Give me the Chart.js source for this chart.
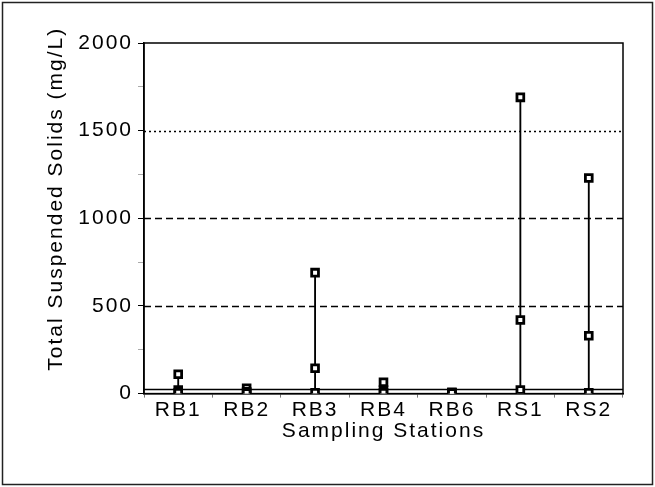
<!DOCTYPE html>
<html>
<head>
<meta charset="utf-8">
<script src="https://cdn.jsdelivr.net/npm/chart.js@4.4.1/dist/chart.umd.min.js"></script>
<style>
  html, body { margin: 0; padding: 0; background: #fff; }
  #wrap { position: relative; width: 655px; height: 487px; }
</style>
</head>
<body>
<div id="wrap"><canvas id="c" width="655" height="487"></canvas></div>
<script>
// ---- data ----
const stations = ['RB1', 'RB2', 'RB3', 'RB4', 'RB6', 'RS1', 'RS2'];
const minTSS    = [5, 3, 5, 5, 3, 20, 5];
const medianTSS = [20, 10, 145, 20, 5, 420, 330];
const maxTSS    = [110, 30, 690, 65, 8, 1690, 1230];
const refLevels = [25, 500, 1000, 1500];
const yTicks = [0, 500, 1000, 1500, 2000];

const FONT = "'Liberation Sans', Arial, sans-serif";
const SPACING = '2px';

const ranges = stations.map((s, i) => [minTSS[i], maxTSS[i]]);

const refStyle = {
  25:   { dash: [], width: 1.5 },
  500:  { dash: [7, 4], width: 1.5 },
  1000: { dash: [7, 4], width: 1.5 },
  1500: { dash: [2, 3], width: 1.5 }
};

const spacingPlugin = {
  id: 'spacing',
  beforeInit(chart) { chart.ctx.letterSpacing = SPACING; },
  beforeUpdate(chart) { chart.ctx.letterSpacing = SPACING; },
  beforeLayout(chart) { chart.ctx.letterSpacing = SPACING; },
  beforeDraw(chart) { chart.ctx.letterSpacing = SPACING; }
};

const framePlugin = {
  id: 'frame',
  beforeDatasetsDraw(chart) {
    const { ctx, chartArea: a, scales } = chart;
    const y = scales.y;
    ctx.save();
    ctx.strokeStyle = '#000';
    refLevels.forEach(v => {
      const st = refStyle[v] || { dash: [], width: 1 };
      const py = Math.round(y.getPixelForValue(v)) + 0.5;
      ctx.setLineDash(st.dash);
      ctx.lineWidth = st.width;
      ctx.beginPath();
      ctx.moveTo(a.left, py);
      ctx.lineTo(a.right, py);
      ctx.stroke();
    });
    ctx.setLineDash([]);
    ctx.lineWidth = 1.5;
    ctx.strokeRect(a.left, a.top, a.right - a.left, a.bottom - a.top);
    ctx.restore();
  },
  afterDraw(chart) {
    const ctx = chart.ctx;
    ctx.save();
    ctx.strokeStyle = '#222';
    ctx.lineWidth = 1.5;
    ctx.strokeRect(2.5, 2.5, chart.width - 5, chart.height - 5);
    ctx.restore();
  }
};

const pointDs = (label, data) => ({
  type: 'line',
  label,
  data,
  showLine: false,
  pointStyle: 'rect',
  pointRadius: 4.8,
  pointBorderWidth: 2.8,
  pointBorderColor: '#000',
  pointBackgroundColor: '#fff',
  order: 0
});

new Chart(document.getElementById('c'), {
  data: {
    labels: stations,
    datasets: [
      {
        type: 'bar',
        label: 'Range',
        data: ranges,
        backgroundColor: '#000',
        borderWidth: 0,
        barThickness: 1.2,
        order: 2
      },
      pointDs('Minimum', minTSS),
      pointDs('Median', medianTSS),
      pointDs('Maximum', maxTSS)
    ]
  },
  options: {
    responsive: false,
    animation: false,
    layout: { padding: { left: 0, right: 32, top: 43, bottom: 0 } },
    plugins: { legend: { display: false }, tooltip: { enabled: false } },
    scales: {
      x: {
        type: 'category',
        offset: true,
        grid: { offset: true, drawOnChartArea: false, tickLength: 4, tickColor: '#777', lineWidth: 1 },
        border: { display: true, color: '#000', width: 1.5 },
        ticks: { color: '#000', font: { family: FONT, size: 21 }, padding: 0 },
        title: { display: true, text: 'Sampling Stations', color: '#000', font: { family: FONT, size: 21 }, padding: { top: -4, bottom: 43 } }
      },
      y: {
        min: 0,
        max: 2000,
        afterFit(scale) { scale.width = 144; },
        afterBuildTicks(scale) {
          const t = [];
          for (let v = 0; v <= 2000; v += 250) t.push({ value: v });
          scale.ticks = t;
        },
        grid: {
          drawOnChartArea: false,
          tickLength: 6,
          tickColor: ctx => (yTicks.includes(ctx.tick && ctx.tick.value) ? '#000' : '#aaa'),
          tickWidth: 1
        },
        border: { display: true, color: '#000', width: 1.5 },
        ticks: {
          color: '#000',
          font: { family: FONT, size: 21 },
          padding: 5,
          callback: v => (yTicks.includes(v) ? String(v) : '')
        },
        title: { display: true, text: '     Total Suspended Solids (mg/L)', color: '#000', font: { family: FONT, size: 21 }, padding: { top: 44, bottom: 0 } }
      }
    }
  },
  plugins: [spacingPlugin, framePlugin]
});
</script>
</body>
</html>
